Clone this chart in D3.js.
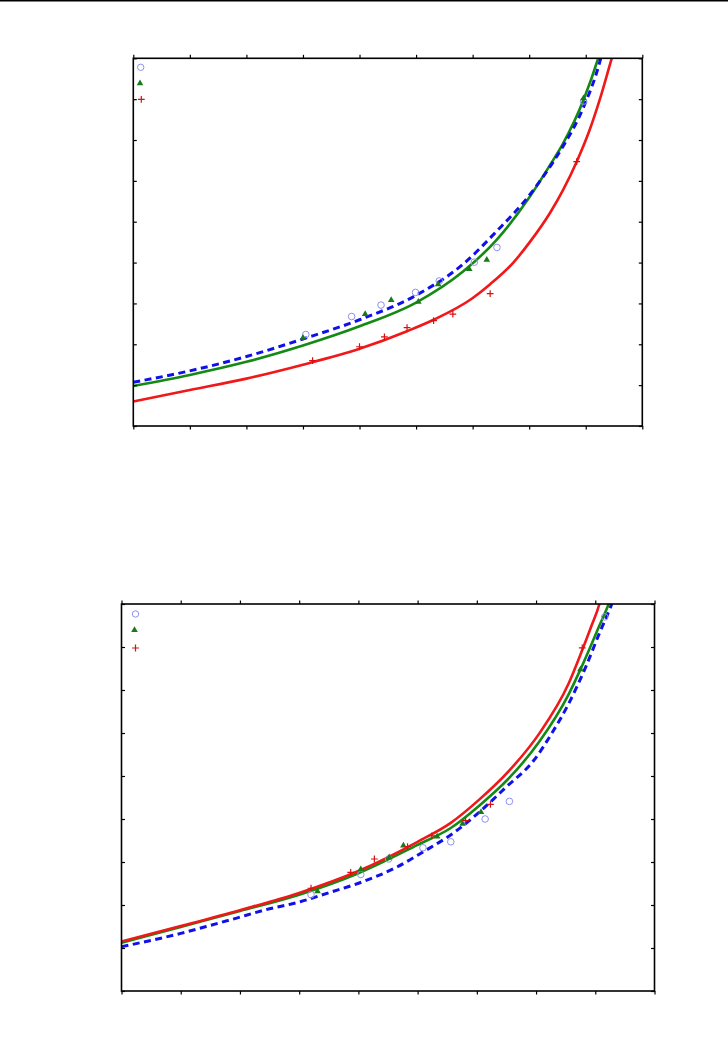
<!DOCTYPE html>
<html>
<head>
<meta charset="utf-8">
<script src="https://cdn.jsdelivr.net/npm/d3@7"></script>
<style>
  body { margin: 0; background: #fff; }
  svg { display: block; }
</style>
</head>
<body>
<svg id="chart" width="728" height="1044"></svg>
<script>
// top panel data (x, y in axis units, 9 ticks each way)
var topCircles = [[3.05,2.24],[3.86,2.68],[4.38,2.96],[4.99,3.27],[5.41,3.55],[6.03,4.01],[6.43,4.37],[7.96,7.95]];
var topTriangles = [[3.0,2.16],[4.1,2.74],[4.56,3.08],[5.04,3.04],[5.39,3.47],[5.94,3.84],[6.25,4.07],[7.96,8.02]];
var topPluses = [[3.17,1.6],[4.0,1.94],[4.44,2.18],[4.84,2.41],[5.31,2.58],[5.65,2.74],[6.31,3.24],[7.84,6.47]];
var topBlue = [[0,1.07],[1,1.35],[2,1.7],[3,2.13],[4,2.6],[5,3.2],[5.83,3.96],[6.42,4.76],[7.01,5.66],[7.37,6.35],[7.6,6.85],[7.96,7.8],[8.25,8.92],[8.34,9.41]];
var topGreen = [[0,0.98],[1,1.25],[2,1.57],[3,1.97],[4,2.44],[5,3.02],[5.83,3.78],[6.42,4.55],[7.01,5.61],[7.37,6.39],[7.6,6.92],[7.96,7.98],[8.22,9.0],[8.31,9.41]];
var topRed = [[0,0.6],[1,0.88],[2,1.16],[3,1.5],[4,1.89],[4.84,2.32],[5.31,2.6],[5.99,3.12],[6.31,3.47],[6.72,4.0],[7.01,4.5],[7.37,5.22],[7.6,5.78],[7.84,6.47],[8.07,7.25],[8.25,8.0],[8.46,9.0],[8.55,9.41]];

// bottom panel data
var botCircles = [[3.2,2.24],[4.04,2.71],[4.51,3.07],[5.09,3.33],[5.56,3.47],[6.14,4.0],[6.55,4.41],[8.16,8.7]];
var botTriangles = [[3.31,2.32],[4.04,2.83],[4.52,3.11],[4.76,3.38],[5.33,3.59],[5.76,3.89],[6.07,4.16],[7.75,7.48]];
var botPluses = [[3.2,2.39],[3.87,2.76],[4.27,3.07],[4.83,3.36],[5.24,3.61],[5.81,3.96],[6.23,4.34],[7.78,7.98]];
var botBlue = [[0,1.03],[1,1.34],[1.43,1.5],[1.93,1.69],[2.41,1.88],[3.03,2.08],[3.51,2.29],[3.99,2.5],[4.66,2.89],[5.1,3.24],[5.6,3.67],[6.05,4.17],[6.5,4.75],[6.96,5.36],[7.26,5.98],[7.55,6.68],[7.84,7.54],[8.07,8.32],[8.25,8.9],[8.36,9.3]];
var botGreen = [[0,1.12],[1,1.49],[2,1.86],[3,2.24],[4,2.74],[5,3.4],[5.56,3.79],[6.04,4.31],[6.55,4.96],[7.05,5.79],[7.55,6.9],[7.75,7.48],[8.07,8.5],[8.24,9.05],[8.3,9.29]];
var botRed = [[0,1.15],[1,1.51],[2,1.88],[3,2.28],[4,2.79],[5,3.47],[5.56,3.91],[6.04,4.45],[6.55,5.13],[7.05,5.98],[7.55,7.15],[7.78,7.93],[7.93,8.47],[8.07,9.0],[8.13,9.33]];

var tickVals = d3.range(0, 10);

var svg = d3.select("#chart");

// rule along the top of the page
svg.append("line")
   .attr("x1", 0).attr("x2", 728)
   .attr("y1", 0.75).attr("y2", 0.75)
   .attr("stroke", "#000").attr("stroke-width", 1.5);

var plus = {
  draw: function(ctx, size) {
    var r = Math.sqrt(size) / 2;
    ctx.moveTo(-r, 0); ctx.lineTo(r, 0);
    ctx.moveTo(0, -r); ctx.lineTo(0, r);
  }
};

function panel(id, box, legendPos, circles, triangles, pluses, blue, green, red) {
  var x = d3.scaleLinear().domain([0, 9]).range([box.left, box.right]);
  var y = d3.scaleLinear().domain([0, 9]).range([box.bottom, box.top]);

  var g = svg.append("g");

  g.append("clipPath").attr("id", id)
    .append("rect")
    .attr("x", box.left).attr("y", box.top)
    .attr("width", box.right - box.left).attr("height", box.bottom - box.top);

  var line = d3.line()
    .x(function(d) { return x(d[0]); })
    .y(function(d) { return y(d[1]); })
    .curve(d3.curveMonotoneX);

  var lines = g.append("g").attr("clip-path", "url(#" + id + ")");
  lines.append("path").datum(green)
    .attr("d", line).attr("fill", "none")
    .attr("stroke", "#148a14").attr("stroke-width", 2.6);
  lines.append("path").datum(red)
    .attr("d", line).attr("fill", "none")
    .attr("stroke", "#f01818").attr("stroke-width", 2.6);
  lines.append("path").datum(blue)
    .attr("d", line).attr("fill", "none")
    .attr("stroke", "#1010e8").attr("stroke-width", 3)
    .attr("stroke-dasharray", "7,4.5");

  g.selectAll(".c").data(circles).enter().append("circle")
    .attr("cx", function(d) { return x(d[0]); })
    .attr("cy", function(d) { return y(d[1]); })
    .attr("r", 3.3)
    .attr("fill", "none").attr("stroke", "#9090f0").attr("stroke-width", 1);

  var tri = d3.symbol().type(d3.symbolTriangle).size(19);
  g.selectAll(".t").data(triangles).enter().append("path")
    .attr("d", tri)
    .attr("transform", function(d) { return "translate(" + x(d[0]) + "," + y(d[1]) + ")"; })
    .attr("fill", "#1a7a1a");

  var cross = d3.symbol().type(plus).size(46);
  g.selectAll(".p").data(pluses).enter().append("path")
    .attr("d", cross)
    .attr("transform", function(d) { return "translate(" + x(d[0]) + "," + y(d[1]) + ")"; })
    .attr("fill", "none").attr("stroke", "#d81010").attr("stroke-width", 1.2);

  // legend symbols (no labels in the picture)
  g.append("circle")
    .attr("cx", box.left + legendPos[0][0]).attr("cy", box.top + legendPos[0][1])
    .attr("r", 3.2).attr("fill", "none").attr("stroke", "#9090f0").attr("stroke-width", 1);
  g.append("path").attr("d", tri)
    .attr("transform", "translate(" + (box.left + legendPos[1][0]) + "," + (box.top + legendPos[1][1]) + ")")
    .attr("fill", "#1a7a1a");
  g.append("path").attr("d", cross)
    .attr("transform", "translate(" + (box.left + legendPos[2][0]) + "," + (box.top + legendPos[2][1]) + ")")
    .attr("fill", "none").attr("stroke", "#d81010").attr("stroke-width", 1.2);

  // inward ticks on all four sides
  var axes = [
    [d3.axisBottom(x), box.top],
    [d3.axisTop(x), box.bottom]
  ];
  axes.forEach(function(a) {
    g.append("g").attr("transform", "translate(0," + a[1] + ")")
      .call(a[0].tickValues(tickVals).tickSize(-3.5).tickFormat(""))
      .call(function(s) { s.select(".domain").remove(); });
  });
  g.append("g").attr("transform", "translate(" + box.left + ",0)")
    .call(d3.axisLeft(y).tickValues(tickVals).tickSize(-3.5).tickFormat(""))
    .call(function(s) { s.select(".domain").remove(); });
  g.append("g").attr("transform", "translate(" + box.right + ",0)")
    .call(d3.axisRight(y).tickValues(tickVals).tickSize(-3.5).tickFormat(""))
    .call(function(s) { s.select(".domain").remove(); });
  g.selectAll(".tick line").attr("stroke", "#000").attr("stroke-width", 1.2);

  g.append("rect")
    .attr("x", box.left).attr("y", box.top)
    .attr("width", box.right - box.left).attr("height", box.bottom - box.top)
    .attr("fill", "none").attr("stroke", "#000").attr("stroke-width", 1.6);
}

panel("clipTop", {left: 133.3, right: 642.3, top: 58.3, bottom: 426},
      [[7.4, 9], [6.7, 25], [8, 41]],
      topCircles, topTriangles, topPluses, topBlue, topGreen, topRed);

panel("clipBot", {left: 121.5, right: 654.5, top: 604, bottom: 991},
      [[14, 10], [13, 26], [14, 44]],
      botCircles, botTriangles, botPluses, botBlue, botGreen, botRed);
</script>
</body>
</html>
